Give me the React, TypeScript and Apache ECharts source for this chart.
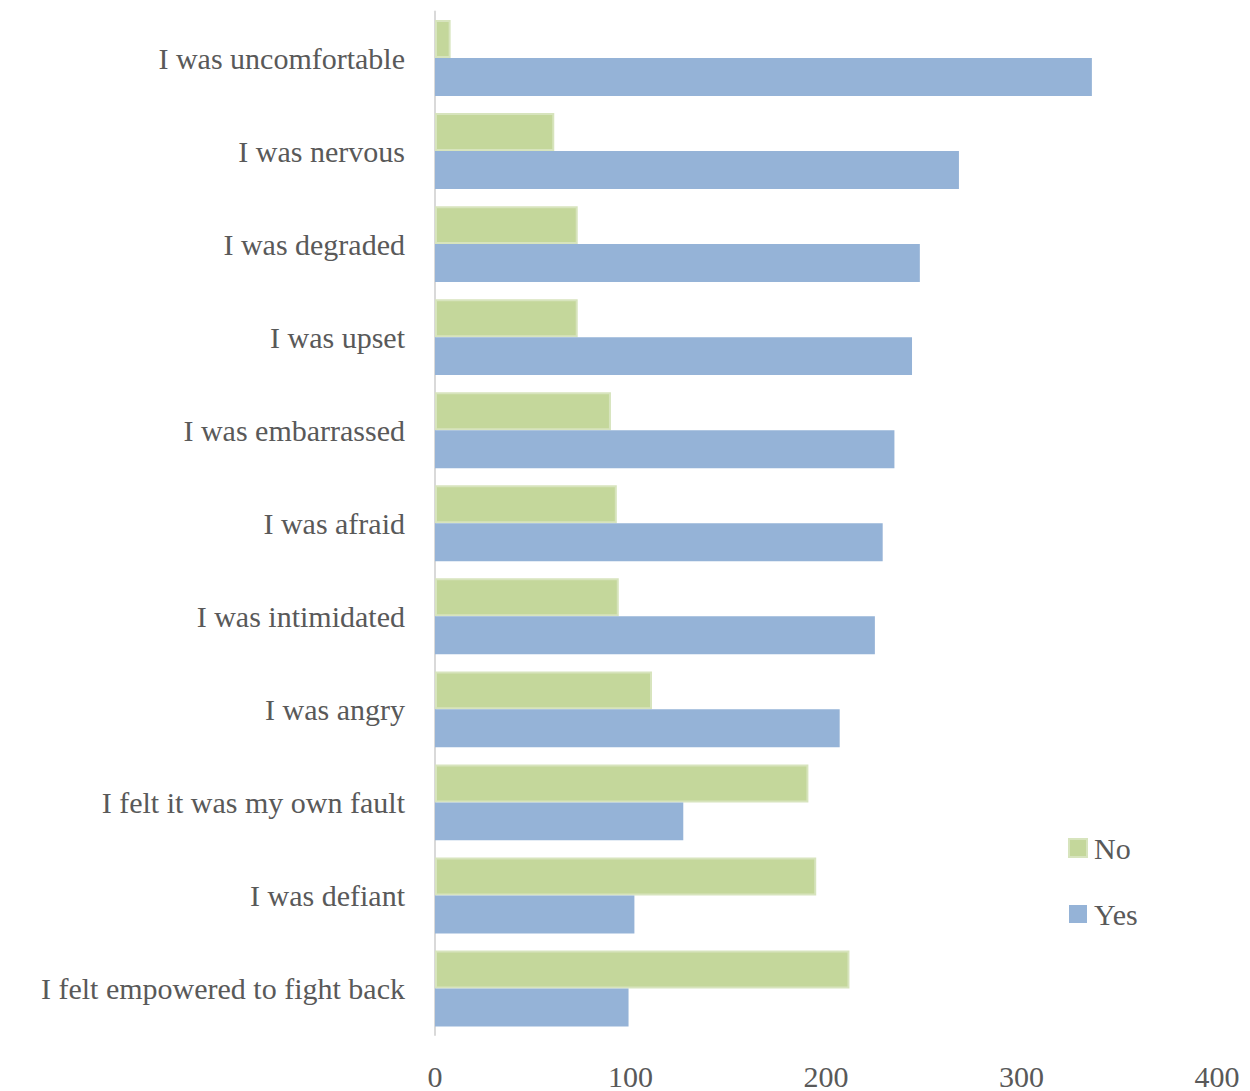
import React, { useEffect, useRef } from "react";
import * as echarts from "echarts";

const categories = [
  "I was uncomfortable",
  "I was nervous",
  "I was degraded",
  "I was upset",
  "I was embarrassed",
  "I was afraid",
  "I was intimidated",
  "I was angry",
  "I felt it was my own fault",
  "I was defiant",
  "I felt empowered to fight back",
];
const noValues = [8, 61, 73, 73, 90, 93, 94, 111, 191, 195, 212];
const yesValues = [336, 268, 248, 244, 235, 229, 225, 207, 127, 102, 99];
const xTicks = [0, 100, 200, 300, 400];

const FONT = "'Liberation Serif', 'DejaVu Serif', serif";

export default function App() {
  const ref = useRef<HTMLDivElement>(null);
  useEffect(() => {
    if (!ref.current) return;
    const chart = echarts.init(ref.current, null, { renderer: "svg" });
    chart.setOption({
      animation: false,
      backgroundColor: "#ffffff",
      textStyle: { fontFamily: FONT },
      grid: { left: 435, right: 33, top: 11.5, bottom: 55.5, containLabel: false },
      legend: {
        orient: "vertical",
        left: 1063,
        top: 828,
        itemWidth: 18,
        itemHeight: 18,
        itemGap: 36,
        icon: "rect",
        textStyle: { fontFamily: FONT, fontSize: 30, color: "#595959", padding: [0, 0, 0, 2] },
        data: ["No", "Yes"],
      },
      xAxis: {
        type: "value",
        min: xTicks[0],
        max: xTicks[xTicks.length - 1],
        interval: 100,
        axisLine: { show: false },
        axisTick: { show: false },
        splitLine: { show: false },
        axisLabel: { fontFamily: FONT, fontSize: 30, color: "#595959", margin: 26 },
      },
      yAxis: {
        type: "category",
        data: categories,
        inverse: true,
        axisLine: { show: true, lineStyle: { color: "#D9D9D9", width: 2 } },
        axisTick: { show: false },
        axisLabel: {
          fontFamily: FONT,
          fontSize: 30,
          color: "#595959",
          margin: 30,
          padding: [0, 0, 5, 0],
        },
      },
      series: [
        {
          name: "No",
          type: "bar",
          data: noValues,
          barGap: "0%",
          barCategoryGap: "18.4%",
          itemStyle: { color: "#C4D79B", borderColor: "#D7E4BD", borderWidth: 2 },
        },
        {
          name: "Yes",
          type: "bar",
          data: yesValues,
          barGap: "0%",
          barCategoryGap: "18.4%",
          itemStyle: { color: "#95B3D7" },
        },
      ],
    });
    return () => chart.dispose();
  }, []);
  return (
    <div
      ref={ref}
      style={{ position: "fixed", left: 0, top: 0, width: 1250, height: 1091 }}
    />
  );
}
